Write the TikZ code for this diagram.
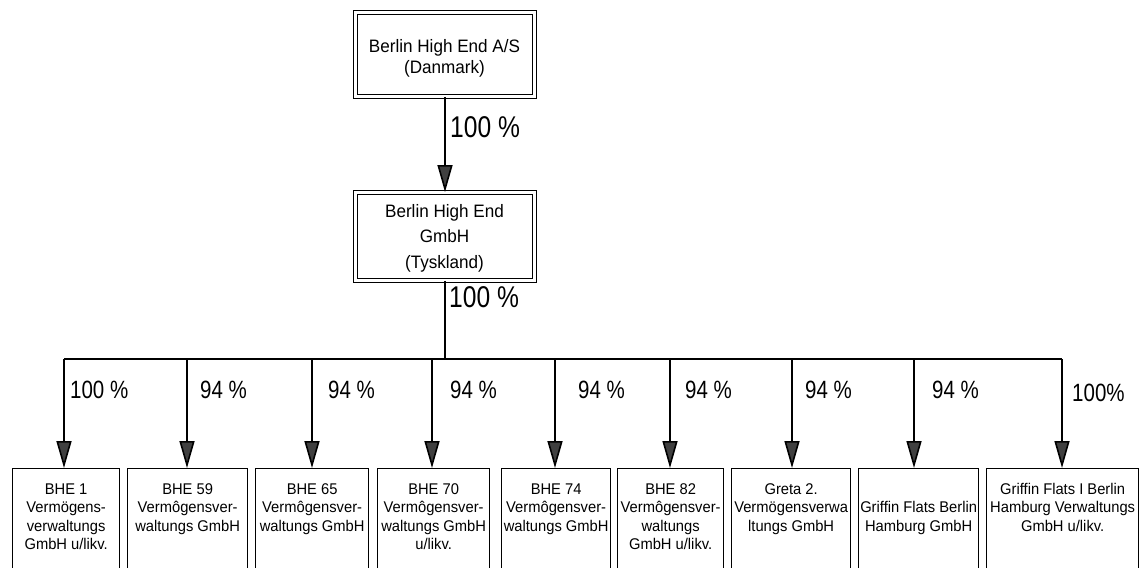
\documentclass[tikz,border=0pt]{standalone}
\usepackage{fontspec}
\setmainfont{Liberation Sans}
\newfontfamily\boxfont[FakeStretch=0.95]{Liberation Sans}
\newfontfamily\pctfont[FakeStretch=0.82]{Liberation Sans}
\usetikzlibrary{arrows.meta}
\begin{document}
\begin{tikzpicture}[x=1pt,y=-1pt,
  dbox/.style={draw, double, double distance=2.4pt, line width=0.9pt, inner sep=0pt, anchor=north west},
  cbox/.style={draw, line width=1.3pt, inner sep=0pt, anchor=north west, minimum height=130pt},
  toptext/.style={inner sep=0pt, anchor=north, align=center, font=\boxfont\fontsize{18}{21}\selectfont},
  midtext/.style={inner sep=0pt, anchor=north, align=center, font=\boxfont\fontsize{18}{25.5}\selectfont},
  ctext/.style={inner sep=0pt, anchor=north, align=center, font=\boxfont\fontsize{15.5}{18.5}\selectfont},
  bigpct/.style={inner sep=0pt, anchor=base west, font=\pctfont\fontsize{30}{36}\selectfont},
  pct/.style={inner sep=0pt, anchor=base west, font=\pctfont\fontsize{25}{30}\selectfont},
  conn/.style={line width=1.6pt},
  arr/.style={line width=1.6pt, -{Triangle[length=27pt,width=15pt,fill=black!75]}}
]
\useasboundingbox (0,0) rectangle (1139,567);
\clip (0,0) rectangle (1139,567);

% top boxes
\node[dbox, minimum width=179pt, minimum height=84pt] (top) at (355,12) {};
\node[toptext] (toptxt) at (444.5,37.3) {\strut Berlin High End A/S\\(Danmark)};
\node[dbox, minimum width=179pt, minimum height=88pt] (mid) at (355,192) {};
\node[midtext] (midtxt) at (444.5,199) {\strut Berlin High End\\GmbH\\(Tyskland)};

\draw[arr] (top.south -| 445,0) -- (mid.north -| 445,0);
\node[bigpct] (p0) at (450,137) {100 \%};

% bus
\coordinate (busmid) at (445,359);
\coordinate (busL) at (64,359);
\coordinate (busR) at (1062,359);
\draw[conn] (mid.south -| busmid) -- (busmid);
\node[bigpct] (p1) at (449,307) {100 \%};
\draw[conn] (busL) -- (busR);

% child boxes
\node[cbox, minimum width=107pt] (c1) at (12,468) {};
\node[cbox, minimum width=120pt] (c2) at (127,468) {};
\node[cbox, minimum width=113pt] (c3) at (255,468) {};
\node[cbox, minimum width=112pt] (c4) at (377,468) {};
\node[cbox, minimum width=109pt] (c5) at (501,468) {};
\node[cbox, minimum width=106pt] (c6) at (617,468) {};
\node[cbox, minimum width=119pt] (c7) at (731,468) {};
\node[cbox, minimum width=120pt] (c8) at (858,468) {};
\node[cbox, minimum width=152pt] (c9) at (986,468) {};

% child texts
\node[ctext] (t1) at (c1.north) [yshift=-13pt] {\strut BHE 1\\Vermögens-\\verwaltungs\\GmbH u/likv.};
\node[ctext] (t2) at (c2.north) [yshift=-13pt] {\strut BHE 59\\Vermôgensver-\\waltungs GmbH};
\node[ctext] (t3) at (c3.north) [yshift=-13pt] {\strut BHE 65\\Vermôgensver-\\waltungs GmbH};
\node[ctext] (t4) at (c4.north) [yshift=-13pt] {\strut BHE 70\\Vermôgensver-\\waltungs GmbH\\u/likv.};
\node[ctext] (t5) at (c5.north) [yshift=-13pt] {\strut BHE 74\\Vermôgensver-\\waltungs GmbH};
\node[ctext] (t6) at (c6.north) [yshift=-13pt] {\strut BHE 82\\Vermôgensver-\\waltungs\\GmbH u/likv.};
\node[ctext] (t7) at (c7.north) [yshift=-13pt] {\strut Greta 2.\\Vermögensverwa\\ltungs GmbH};
\node[ctext] (t8) at (c8.north) [yshift=-31.5pt] {\strut Griffin Flats Berlin\\Hamburg GmbH};
\node[ctext] (t9) at (c9.north) [yshift=-13pt] {\strut Griffin Flats I Berlin\\Hamburg Verwaltungs\\GmbH u/likv.};

% arrows from bus
\foreach \x/\c in {64/c1,187/c2,312/c3,432/c4,555/c5,670/c6,792/c7,914/c8,1062/c9}{
  \draw[arr] (\x,359) -- (\c.north -| \x,0);
}

% percent labels
\node[pct] (q1) at (70,398) {100 \%};
\node[pct] (q2) at (200,398) {94 \%};
\node[pct] (q3) at (328,398) {94 \%};
\node[pct] (q4) at (450,398) {94 \%};
\node[pct] (q5) at (578,398) {94 \%};
\node[pct] (q6) at (685,398) {94 \%};
\node[pct] (q7) at (805,398) {94 \%};
\node[pct] (q8) at (932,398) {94 \%};
\node[pct] (q9) at (1072,401) {100\%};
\end{tikzpicture}
\end{document}
